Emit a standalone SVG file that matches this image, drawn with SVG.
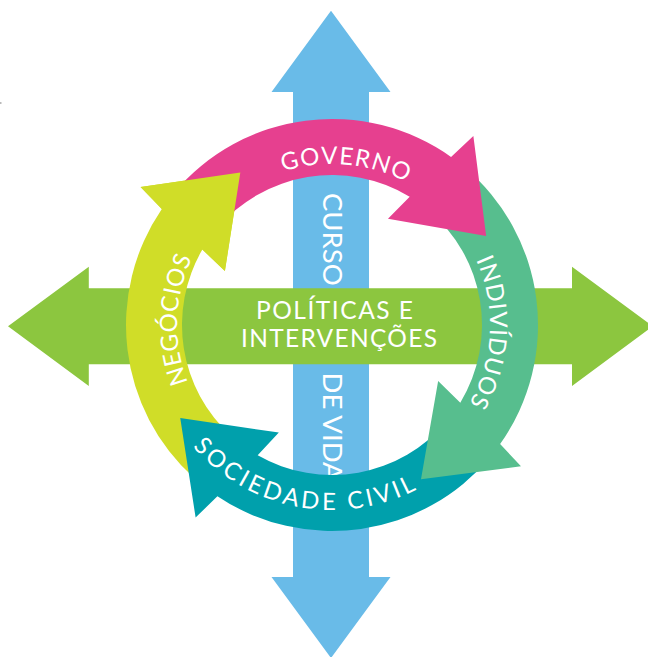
<svg xmlns="http://www.w3.org/2000/svg" width="648" height="657" viewBox="0 0 648 657">
<style>
.lbl{fill:#ffffff;font-family:Lato,"Open Sans","Liberation Sans",sans-serif;}
.ring{font-size:24px;}
</style>
<defs>
<path id="pGov" d="M186.2,256.7 A161,161 0 0 1 487.59,283.6"/>
<path id="pInd" d="M393.48,179.45 A158,158 0 0 1 378.46,476.01"/>
<path id="pNeg" d="M273.94,468.71 A155,155 0 0 1 284.1,177.59"/>
<path id="pSoc" d="M149.65,356.17 A185,185 0 0 0 491.73,418.34"/>
</defs>
<rect width="648" height="657" fill="#ffffff"/>
<rect x="0" y="102.5" width="1.5" height="1" fill="#777777"/>
<g id="curso-de-vida">
<polygon fill="#69BBE8" points="331,10.7 390.5,92 369,92 369,577 390.5,577 331,658 271.5,577 293,577 293,92 271.5,92"/>
<text class="lbl" font-size="27.5" transform="translate(322.5,193) rotate(90)">CURSO</text>
<text class="lbl" font-size="27.5" transform="translate(322.5,372.5) rotate(90)">DE VIDA</text>
</g>
<g id="politicas">
<polygon fill="#8CC63F" points="8,326.3 88.8,266.7 88.8,288.3 572,288.3 572,266.7 652.8,326.3 572,386 572,364.3 88.8,364.3 88.8,386"/>
<text class="lbl" font-size="24.5" x="256" y="319" textLength="157" lengthAdjust="spacing">POLÍTICAS E</text>
<text class="lbl" font-size="24.5" x="241" y="346.5" textLength="196" lengthAdjust="spacing">INTERVENÇÕES</text>
</g>
<g id="connectors">
<g id="negocios">
<path fill="#D0DD28" d="M194.16,478.09 A206,206 0 0 1 161.82,208.92 L140.58,186.94 L240.33,172.42 L224.89,270.89 L202.36,249.55 A150,150 0 0 0 231.63,436.47 Z"/>
</g>
<g id="sociedade-civil">
<path fill="#00A0AC" d="M489.81,457.41 A206,206 0 0 1 217.4,496.19 L195.62,517.6 L180.24,418 L278.83,432.58 L257.67,455.29 A150,150 0 0 0 446.91,421.42 Z"/>
</g>
<g id="individuos">
<path fill="#57BE8E" d="M464.42,167.19 A206,206 0 0 1 500.12,444.05 L520.97,466.36 L421,479.15 L438.15,380.97 L460.31,402.7 A150,150 0 0 0 428.42,210.09 Z"/>
</g>
<g id="governo">
<path fill="#E6408F" d="M174.19,192.59 A206,206 0 0 1 451.05,156.88 L473.36,136.03 L486.15,236 L387.97,218.85 L409.7,196.7 A150,150 0 0 0 217.09,228.58 Z"/>
</g>
<polygon id="negocios-head" fill="#D0DD28" points="161.82,208.92 140.58,186.94 240.33,172.42 224.89,270.89 202.36,249.55"/>
</g>
<g id="ring-labels">
<text class="lbl ring" letter-spacing="1.3"><textPath href="#pGov" startOffset="50%" text-anchor="middle">GOVERNO</textPath></text>
<text class="lbl ring" letter-spacing="0.9"><textPath href="#pInd" startOffset="50%" text-anchor="middle">INDIVÍDUOS</textPath></text>
<text class="lbl ring" letter-spacing="0.6"><textPath href="#pNeg" startOffset="50%" text-anchor="middle">NEGÓCIOS</textPath></text>
<text class="lbl ring" letter-spacing="3.3"><textPath href="#pSoc" startOffset="50%" text-anchor="middle">SOCIEDADE CIVIL</textPath></text>
</g>
</svg>
